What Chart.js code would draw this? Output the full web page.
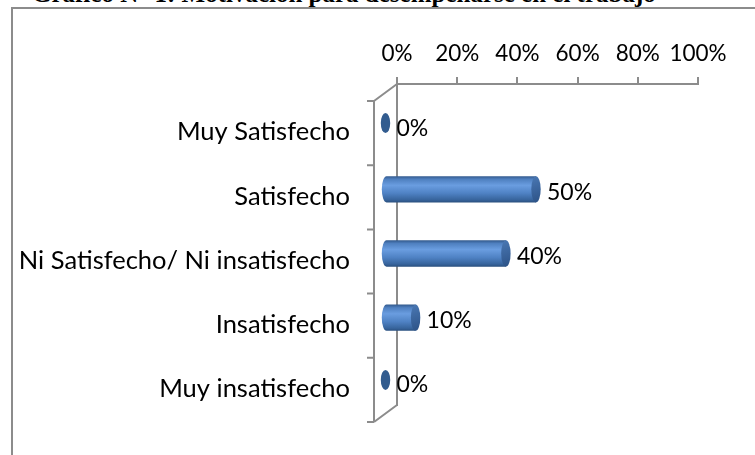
<!DOCTYPE html>
<html>
<head>
<meta charset="utf-8">
<script src="https://cdn.jsdelivr.net/npm/chart.js@4"></script>
<style>
  body { margin: 0; background: #fff; width: 755px; height: 455px; overflow: hidden; position: relative; }
  #title { position: absolute; left: 32px; top: -18px; font: bold 25px "Liberation Serif"; line-height: 24px; white-space: nowrap; color: #000; }
  #box { position: absolute; left: 11px; top: 7px; width: 760px; height: 460px; border-left: 2px solid #8c8c8c; border-top: 2px solid #8c8c8c; }
  #chart { position: absolute; left: 0; top: 0; }
</style>
</head>
<body>
<div id="title">Gráfico N° 1: Motivación para desempeñarse en el trabajo</div>
<div id="box"><canvas id="chart" width="742" height="446"></canvas></div>
<script>
// Chart data
const categories = ['Muy Satisfecho', 'Satisfecho', 'Ni Satisfecho/ Ni insatisfecho', 'Insatisfecho', 'Muy insatisfecho'];
const values = [0, 50, 40, 10, 0];
const tickValues = [0, 20, 40, 60, 80, 100];

const FONT = 'Lato';
const AXIS_GRAY = '#8c8c8c';
// depth shift of the front plane and of the bars
const FRONT = { x: -23, y: 17 };
const MID = { x: -11.5, y: 9 };

// Draw the pseudo 3D frame, cylinders and value labels
const cylinderPlugin = {
    id: 'cylinders',
    afterDatasetsDraw(chart) {
        const ctx = chart.ctx;
        const area = chart.chartArea;

        ctx.save();
        ctx.strokeStyle = AXIS_GRAY;
        ctx.lineWidth = 2;

        // front edge of the side wall
        ctx.beginPath();
        ctx.moveTo(area.left + FRONT.x, area.top + FRONT.y);
        ctx.lineTo(area.left + FRONT.x, area.bottom + FRONT.y);
        ctx.moveTo(area.left + FRONT.x, area.top + FRONT.y);
        ctx.lineTo(area.left, area.top);
        ctx.moveTo(area.left + FRONT.x, area.bottom + FRONT.y);
        ctx.lineTo(area.left, area.bottom);
        ctx.stroke();

        // category ticks on the front edge
        const step = (area.bottom - area.top) / categories.length;
        ctx.beginPath();
        for (let i = 0; i <= categories.length; i++) {
            const ty = area.top + step * i + FRONT.y;
            ctx.moveTo(area.left + FRONT.x - 7, ty);
            ctx.lineTo(area.left + FRONT.x, ty);
        }
        ctx.stroke();

        const meta = chart.getDatasetMeta(0);
        meta.data.forEach((bar, i) => {
            const x0 = bar.base + MID.x;
            const x1 = bar.x + MID.x;
            const cy = bar.y + MID.y;
            const h = bar.height;
            const ry = h / 2;
            const rx = 4.7;

            if (values[i] === 0) {
                ctx.fillStyle = '#325c8f';
                ctx.beginPath();
                ctx.ellipse(x0, cy - 2, rx, 10, 0, 0, Math.PI * 2);
                ctx.fill();
            } else {
                const grad = ctx.createLinearGradient(0, cy - ry, 0, cy + ry);
                grad.addColorStop(0, '#32598c');
                grad.addColorStop(0.12, '#4f80c0');
                grad.addColorStop(0.35, '#6a9de0');
                grad.addColorStop(0.65, '#4f82c4');
                grad.addColorStop(0.9, '#37649c');
                grad.addColorStop(1, '#2a4f7e');

                // body with rounded back end
                ctx.fillStyle = grad;
                ctx.beginPath();
                ctx.ellipse(x0, cy, rx, ry, 0, Math.PI / 2, Math.PI * 3 / 2);
                ctx.lineTo(x1, cy - ry);
                ctx.lineTo(x1, cy + ry);
                ctx.closePath();
                ctx.fill();

                // front cap
                const capGrad = ctx.createLinearGradient(x1 - rx, cy - ry, x1 + rx, cy + ry);
                capGrad.addColorStop(0, '#4a78b4');
                capGrad.addColorStop(1, '#2c5286');
                ctx.fillStyle = capGrad;
                ctx.beginPath();
                ctx.ellipse(x1, cy, rx, ry, 0, 0, Math.PI * 2);
                ctx.fill();
            }

            // value label
            ctx.fillStyle = '#000';
            ctx.font = `23px ${FONT}`;
            ctx.textAlign = 'left';
            ctx.textBaseline = 'middle';
            ctx.fillText(values[i] + '%', x1 + 11, cy + 3);
        });
        ctx.restore();
    }
};

new Chart(document.getElementById('chart'), {
    type: 'bar',
    data: {
        labels: categories,
        datasets: [{
            data: values,
            backgroundColor: 'rgba(0,0,0,0)',
            categoryPercentage: 1,
            barPercentage: 0.41
        }]
    },
    options: {
        indexAxis: 'y',
        responsive: false,
        animation: false,
        layout: { padding: { left: 0, top: 0, right: 57, bottom: 50 } },
        plugins: {
            legend: { display: false },
            tooltip: { enabled: false }
        },
        scales: {
            x: {
                position: 'top',
                min: 0,
                max: 100,
                afterBuildTicks(scale) {
                    scale.ticks = tickValues.map(v => ({ value: v }));
                },
                afterFit(scale) { scale.height = 75; },
                ticks: {
                    callback: v => v + '%',
                    color: '#000',
                    font: { family: FONT, size: 22.5 },
                    padding: 10,
                    maxRotation: 0
                },
                grid: {
                    drawOnChartArea: false,
                    tickLength: 7,
                    color: AXIS_GRAY,
                    lineWidth: 2
                },
                border: { color: AXIS_GRAY, width: 2 }
            },
            y: {
                afterFit(scale) { scale.width = 384; },
                ticks: {
                    color: '#000',
                    font: { family: FONT, size: 25.5 },
                    padding: 6,
                    labelOffset: 16
                },
                // invisible ticks keep the labels clear of the 3D side wall
                grid: { drawOnChartArea: false, drawTicks: true, tickLength: 41, tickColor: 'rgba(0,0,0,0)' },
                border: { color: AXIS_GRAY, width: 2 }
            }
        }
    },
    plugins: [cylinderPlugin]
});
</script>
</body>
</html>
